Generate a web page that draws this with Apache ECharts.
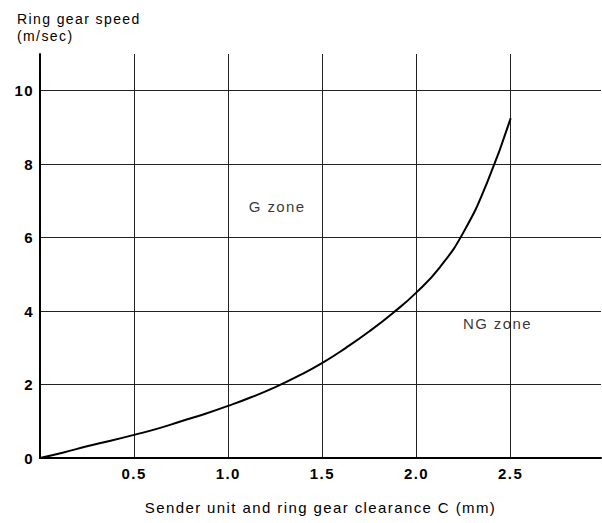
<!DOCTYPE html>
<html>
<head>
<meta charset="utf-8">
<script src="https://cdn.jsdelivr.net/npm/echarts@6/dist/echarts.min.js"></script>
<style>html,body{margin:0;padding:0;background:#fff}#c{width:602px;height:523px}#c text{letter-spacing:1.4px}</style>
</head>
<body>
<div id="c"></div>
<script>
// Data
const clearance = [0, 0.125, 0.25, 0.375, 0.5, 0.625, 0.75, 0.875, 1.0, 1.125, 1.25, 1.375, 1.5, 1.625, 1.75, 1.875, 2.0, 2.125, 2.25, 2.375, 2.5];
const speed = [0, 0.15, 0.32, 0.47, 0.63, 0.8, 1.0, 1.2, 1.42, 1.66, 1.93, 2.24, 2.59, 3.0, 3.45, 3.95, 4.51, 5.2, 6.15, 7.5, 9.25];
const yTitle = 'Ring gear speed\n(m/sec)';
const xTitle = 'Sender unit and ring gear clearance C (mm)';
const zoneLabels = ['G zone', 'NG zone'];
const zoneAnchors = [[1.26, 6.86], [2.43, 3.66]];

const font = 'Liberation Sans, Arial, Helvetica, sans-serif';
const chart = echarts.init(document.getElementById('c'), null, { renderer: 'svg' });
chart.setOption({
  animation: false,
  backgroundColor: '#fff',
  title: {
    text: yTitle, left: 12, top: 5,
    textStyle: { fontFamily: font, fontSize: 14, fontWeight: 'normal', color: '#000', lineHeight: 17 }
  },
  grid: { left: 40, right: 1, top: 54, bottom: 65, containLabel: false, outerBoundsMode: 'none' },
  xAxis: {
    type: 'value', min: 0, max: 2.98, interval: 0.5,
    name: xTitle, nameLocation: 'middle', nameGap: 42,
    nameTextStyle: { fontFamily: font, fontSize: 15, color: '#000' },
    axisLine: { show: true, lineStyle: { color: '#000', width: 2 } },
    axisTick: { show: false },
    axisLabel: {
      fontFamily: font, fontSize: 15, fontWeight: 'bold', color: '#000', margin: 8,
      showMaxLabel: false,
      formatter: v => (v === 0 || v > 2.6 ? '' : v.toFixed(1))
    },
    splitLine: { show: true, showMaxLine: false, lineStyle: { color: '#222', width: 1 } }
  },
  yAxis: {
    type: 'value', min: 0, max: 11, interval: 2,
    axisLine: { show: true, lineStyle: { color: '#000', width: 2 } },
    axisTick: { show: false },
    axisLabel: {
      fontFamily: font, fontSize: 15, fontWeight: 'bold', color: '#000', margin: 6,
      showMaxLabel: false,
      formatter: v => (v > 10 ? '' : String(v))
    },
    splitLine: { show: true, showMaxLine: false, lineStyle: { color: '#222', width: 1 } }
  },
  series: [{
    type: 'line',
    data: clearance.map((x, i) => [x, speed[i]]),
    smooth: 0.5,
    symbol: 'none',
    lineStyle: { color: '#000', width: 2 }
  }, {
    type: 'scatter',
    data: zoneAnchors.map((c, i) => ({ name: zoneLabels[i], value: c })),
    symbolSize: 1,
    itemStyle: { color: 'rgba(255,255,255,0)' },
    label: { show: true, position: 'inside', fontFamily: font, fontSize: 15, color: '#000', formatter: p => p.name },
    silent: true
  }]
});
</script>
</body>
</html>
